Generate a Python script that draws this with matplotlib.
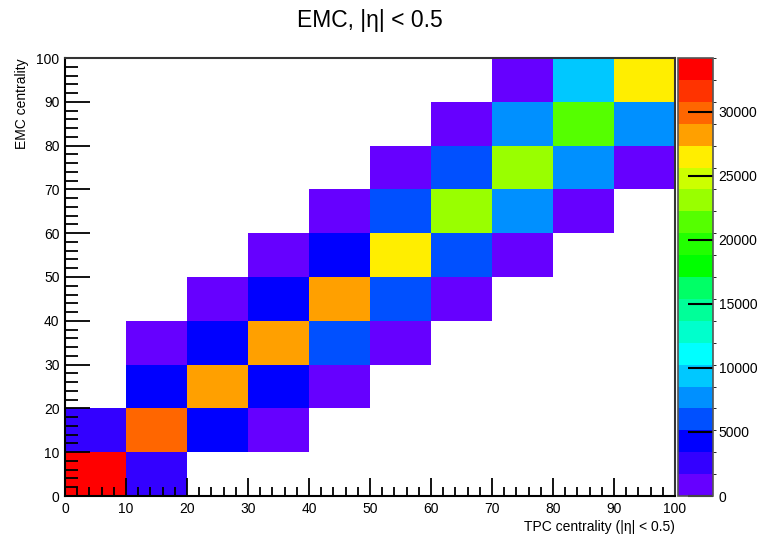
import numpy as np
import matplotlib
matplotlib.use("Agg")
from matplotlib import pyplot as plt
from matplotlib.colors import ListedColormap, BoundaryNorm
from matplotlib.ticker import MultipleLocator

plt.rcParams['font.family'] = ['Liberation Sans', 'DejaVu Sans']

# bin edges (centrality %) for both axes
tpc_edges = np.arange(0, 101, 10)
emc_edges = np.arange(0, 101, 10)

# counts per (EMC row, TPC column); None = empty bin
counts = [
    [34000, 2500, None, None, None, None, None, None, None, None],   # EMC 0-10
    [2700, 30000, 4300, 900, None, None, None, None, None, None],    # EMC 10-20
    [None, 4200, 28000, 4400, 1000, None, None, None, None, None],   # EMC 20-30
    [None, 1100, 4300, 28200, 6000, 1000, None, None, None, None],   # EMC 30-40
    [None, None, 1000, 4400, 28100, 6100, 1000, None, None, None],   # EMC 40-50
    [None, None, None, 1000, 4500, 26500, 6200, 1100, None, None],   # EMC 50-60
    [None, None, None, None, 1000, 6000, 23000, 7700, 1000, None],   # EMC 60-70
    [None, None, None, None, None, 1000, 6100, 23200, 7800, 1000],   # EMC 70-80
    [None, None, None, None, None, None, 1000, 7700, 21500, 7800],   # EMC 80-90
    [None, None, None, None, None, None, None, 1000, 9500, 26500],   # EMC 90-100
]

zmax = 34200
palette = ['#6600ff', '#3300ff', '#0000ff', '#0050ff', '#0090ff',
           '#00c8ff', '#00ffff', '#00ffcc', '#00ff99', '#00ff66',
           '#00ff00', '#22ff00', '#55ff00', '#99ff00', '#ccff00',
           '#ffee00', '#ffa000', '#ff6600', '#ff3300', '#ff0000']

z = np.array([[np.nan if v is None else v for v in row] for row in counts], dtype=float)
z = np.ma.masked_invalid(z)

cmap = ListedColormap(palette)
cmap.set_bad('white')
levels = np.linspace(0, zmax, len(palette) + 1)
norm = BoundaryNorm(levels, cmap.N)

fig = plt.figure(figsize=(7.68, 5.39), dpi=100)
ax = fig.add_axes([65/768, 43/539, 610/768, 438/539])
cax = fig.add_axes([678/768, 43/539, 35/768, 438/539])

mesh = ax.pcolormesh(tpc_edges, emc_edges, z, cmap=cmap, norm=norm)
ax.set_xlim(0, 100)
ax.set_ylim(0, 100)

ax.xaxis.set_major_locator(MultipleLocator(10))
ax.xaxis.set_minor_locator(MultipleLocator(2))
ax.yaxis.set_major_locator(MultipleLocator(10))
ax.yaxis.set_minor_locator(MultipleLocator(2))
ax.tick_params(which='both', direction='in', top=False, right=False,
               labelsize=10, color='black', width=1.3, pad=4)
ax.tick_params(axis='y', which='major', length=18)
ax.tick_params(axis='y', which='minor', length=9)
ax.tick_params(axis='x', which='major', length=13)
ax.tick_params(axis='x', which='minor', length=6.5)
for s in ax.spines.values():
    s.set_linewidth(1.5)
ax.spines['top'].set_color('#333333')
ax.spines['right'].set_color('#333333')

ax.set_title('EMC, |η| < 0.5', fontsize=16.5, pad=22)
ax.set_xlabel('TPC centrality (|η| < 0.5)', fontsize=10, loc='right', labelpad=3)
ax.set_ylabel('EMC centrality', fontsize=10, loc='top', labelpad=5)

cb = fig.colorbar(mesh, cax=cax, ticks=np.arange(0, 30001, 5000))
cb.outline.set_edgecolor('#555555')
cb.outline.set_linewidth(1.2)
cax.tick_params(direction='in', length=18, width=1.5, labelsize=10, pad=4)
cax.set_yticklabels([str(t) for t in range(0, 30001, 5000)])

fig.savefig('out.png', dpi=100)
